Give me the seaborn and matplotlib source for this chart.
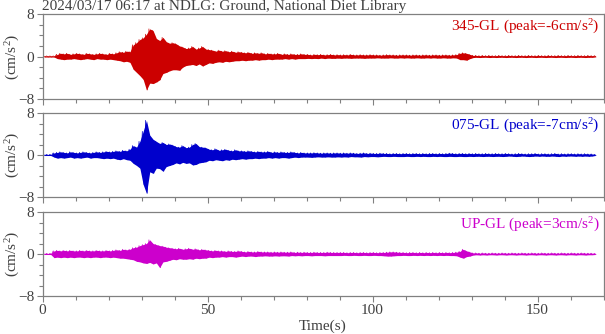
import numpy as np
import pandas as pd
import matplotlib
matplotlib.use("Agg")
import matplotlib.pyplot as plt
from matplotlib.ticker import MultipleLocator, FixedLocator
import seaborn as sns

title = "2024/03/17 06:17 at NDLG: Ground, National Diet Library"
components = ["345-GL", "075-GL", "UP-GL"]
peaks = [-6, -7, 3]
colors = ["#cc0000", "#0000cc", "#cc00cc"]

# Envelope of each record, read per 1-second bin (t = 0 .. 167 s): bin maximum and bin minimum
red_hi = [0.1,0.1,0.1,0.1,0.4,0.6,0.5,0.6,0.4,0.5,
          0.6,0.5,0.4,0.6,0.5,0.4,0.5,0.6,0.5,0.4,
          0.6,0.5,0.7,0.9,0.8,1.0,0.9,2.2,2.6,3.2,
          3.5,4.2,5.2,4.9,3.4,3.0,3.6,2.8,2.5,2.6,
          2.4,2.0,1.8,1.5,1.6,1.9,1.4,1.6,1.9,1.4,
          1.3,1.2,1.0,1.2,1.0,1.1,0.9,1.0,0.8,0.9,
          0.8,0.7,0.8,0.6,0.7,0.6,0.7,0.5,0.6,0.5,
          0.5,0.6,0.4,0.5,0.4,0.5,0.4,0.4,0.5,0.4,
          0.4,0.3,0.4,0.35,0.4,0.3,0.35,0.4,0.3,0.35,
          0.3,0.35,0.3,0.4,0.3,0.3,0.35,0.3,0.3,0.35,
          0.3,0.3,0.25,0.3,0.35,0.3,0.3,0.25,0.3,0.3,
          0.3,0.25,0.3,0.3,0.25,0.3,0.3,0.25,0.3,0.3,
          0.25,0.3,0.3,0.25,0.3,0.35,0.6,0.7,0.6,0.4,
          0.2,0.2,0.15,0.2,0.15,0.2,0.15,0.15,0.2,0.15,
          0.15,0.2,0.15,0.15,0.2,0.15,0.15,0.2,0.15,0.15,
          0.2,0.15,0.15,0.2,0.15,0.15,0.2,0.15,0.15,0.2,
          0.15,0.15,0.2,0.15,0.15,0.2,0.15,0.15]
red_lo = [-0.1,-0.1,-0.1,-0.1,-0.4,-0.5,-0.6,-0.5,-0.5,-0.4,
          -0.5,-0.6,-0.5,-0.4,-0.5,-0.6,-0.4,-0.5,-0.5,-0.6,
          -0.5,-0.6,-0.7,-0.8,-1.0,-0.9,-1.1,-2.4,-3.0,-3.6,
          -4.3,-6.3,-5.0,-5.1,-4.8,-4.4,-3.2,-3.0,-2.7,-2.5,
          -2.5,-2.6,-2.0,-1.7,-1.6,-1.5,-1.7,-1.4,-1.8,-1.5,
          -1.2,-1.3,-1.1,-1.0,-1.1,-0.9,-1.0,-0.9,-0.8,-0.8,
          -0.7,-0.8,-0.7,-0.7,-0.6,-0.7,-0.6,-0.6,-0.5,-0.6,
          -0.5,-0.5,-0.5,-0.4,-0.5,-0.4,-0.5,-0.4,-0.4,-0.4,
          -0.35,-0.4,-0.35,-0.4,-0.3,-0.4,-0.3,-0.35,-0.35,-0.3,
          -0.35,-0.3,-0.3,-0.35,-0.3,-0.3,-0.3,-0.35,-0.3,-0.3,
          -0.3,-0.25,-0.3,-0.3,-0.3,-0.25,-0.3,-0.3,-0.25,-0.3,
          -0.25,-0.3,-0.3,-0.25,-0.3,-0.3,-0.25,-0.3,-0.25,-0.3,
          -0.3,-0.25,-0.3,-0.3,-0.25,-0.3,-0.6,-0.6,-0.7,-0.4,
          -0.2,-0.15,-0.2,-0.15,-0.15,-0.2,-0.15,-0.2,-0.15,-0.15,
          -0.2,-0.15,-0.15,-0.2,-0.15,-0.15,-0.2,-0.15,-0.15,-0.2,
          -0.15,-0.15,-0.2,-0.15,-0.15,-0.2,-0.15,-0.15,-0.2,-0.15,
          -0.15,-0.2,-0.15,-0.15,-0.2,-0.15,-0.15,-0.1]

blue_hi = [0.1,0.1,0.1,0.4,0.5,0.6,0.5,0.4,0.6,0.5,
           0.4,0.5,0.6,0.5,0.4,0.5,0.6,0.5,0.6,0.7,
           0.6,0.7,0.8,0.7,0.9,0.8,1.1,1.8,1.5,2.6,
           4.5,6.6,3.8,3.0,2.6,2.2,2.4,2.0,2.1,1.9,
           1.6,1.5,1.8,1.4,1.5,2.0,2.2,1.6,1.5,1.4,
           1.1,1.0,1.2,0.9,1.0,1.1,0.9,0.8,1.0,0.8,
           0.8,0.7,0.8,0.7,0.6,0.7,0.6,0.6,0.7,0.5,
           0.6,0.5,0.6,0.5,0.5,0.6,0.5,0.4,0.5,0.4,
           0.4,0.4,0.45,0.4,0.35,0.4,0.4,0.35,0.4,0.4,
           0.35,0.4,0.35,0.4,0.35,0.3,0.35,0.4,0.3,0.35,
           0.3,0.3,0.35,0.3,0.3,0.25,0.3,0.3,0.25,0.3,
           0.3,0.25,0.3,0.3,0.25,0.3,0.25,0.3,0.3,0.25,
           0.3,0.25,0.3,0.35,0.3,0.25,0.3,0.3,0.25,0.3,
           0.25,0.3,0.25,0.25,0.3,0.25,0.25,0.3,0.25,0.25,
           0.3,0.25,0.2,0.25,0.3,0.25,0.2,0.25,0.25,0.3,
           0.2,0.25,0.25,0.2,0.25,0.3,0.2,0.25,0.2,0.25,
           0.25,0.2,0.25,0.2,0.25,0.2,0.2,0.1]
blue_lo = [-0.1,-0.1,-0.1,-0.4,-0.6,-0.5,-0.6,-0.5,-0.4,-0.6,
           -0.5,-0.6,-0.5,-0.4,-0.6,-0.5,-0.5,-0.6,-0.7,-0.6,
           -0.7,-0.6,-0.8,-0.9,-0.7,-0.9,-1.0,-1.6,-2.0,-2.5,
           -5.6,-7.3,-3.2,-3.5,-2.5,-2.6,-3.1,-2.2,-2.0,-1.8,
           -1.5,-1.7,-1.4,-1.6,-1.5,-1.9,-1.8,-1.5,-1.4,-1.3,
           -1.0,-1.1,-0.9,-1.0,-1.1,-0.9,-1.0,-0.8,-0.9,-0.8,
           -0.7,-0.8,-0.7,-0.7,-0.6,-0.7,-0.6,-0.6,-0.5,-0.6,
           -0.5,-0.6,-0.5,-0.5,-0.6,-0.5,-0.4,-0.5,-0.4,-0.4,
           -0.4,-0.45,-0.4,-0.35,-0.4,-0.4,-0.35,-0.4,-0.4,-0.35,
           -0.4,-0.35,-0.4,-0.3,-0.35,-0.35,-0.4,-0.3,-0.35,-0.3,
           -0.3,-0.35,-0.3,-0.25,-0.3,-0.3,-0.25,-0.3,-0.3,-0.3,
           -0.25,-0.3,-0.3,-0.25,-0.3,-0.25,-0.3,-0.3,-0.25,-0.3,
           -0.25,-0.3,-0.3,-0.25,-0.3,-0.3,-0.25,-0.3,-0.3,-0.25,
           -0.3,-0.25,-0.25,-0.3,-0.25,-0.25,-0.3,-0.25,-0.25,-0.3,
           -0.25,-0.2,-0.25,-0.3,-0.25,-0.2,-0.25,-0.3,-0.25,-0.2,
           -0.25,-0.2,-0.25,-0.25,-0.2,-0.25,-0.3,-0.2,-0.25,-0.2,
           -0.2,-0.25,-0.2,-0.25,-0.2,-0.25,-0.2,-0.1]

mag_hi = [0.1,0.1,0.1,0.6,0.7,0.6,0.7,0.6,0.7,0.6,
          0.6,0.7,0.6,0.7,0.6,0.6,0.7,0.6,0.6,0.7,
          0.6,0.7,0.8,0.7,0.9,0.8,0.9,1.2,1.3,1.6,
          1.8,2.0,2.7,2.0,1.8,1.6,1.5,1.3,1.2,1.1,
          1.0,1.1,0.9,1.0,1.1,0.9,1.0,0.8,0.9,0.8,
          0.7,0.6,0.7,0.6,0.6,0.5,0.6,0.5,0.5,0.6,
          0.5,0.4,0.5,0.4,0.4,0.5,0.4,0.4,0.4,0.35,
          0.4,0.35,0.4,0.35,0.35,0.4,0.3,0.35,0.3,0.35,
          0.3,0.3,0.35,0.3,0.3,0.3,0.35,0.3,0.3,0.3,
          0.3,0.3,0.25,0.3,0.3,0.25,0.3,0.3,0.25,0.3,
          0.3,0.25,0.3,0.3,0.35,0.4,0.4,0.35,0.3,0.3,
          0.25,0.3,0.3,0.25,0.3,0.25,0.3,0.25,0.3,0.25,
          0.3,0.25,0.3,0.25,0.3,0.35,0.5,0.9,0.6,0.4,
          0.2,0.2,0.15,0.2,0.15,0.15,0.2,0.15,0.15,0.2,
          0.15,0.15,0.2,0.15,0.15,0.2,0.15,0.15,0.2,0.15,
          0.15,0.2,0.15,0.15,0.2,0.15,0.15,0.2,0.15,0.15,
          0.2,0.15,0.15,0.2,0.15,0.15,0.15,0.1]
mag_lo = [-0.1,-0.1,-0.1,-0.7,-0.6,-0.7,-0.6,-0.7,-0.6,-0.7,
          -0.6,-0.6,-0.7,-0.6,-0.7,-0.6,-0.6,-0.7,-0.6,-0.6,
          -0.7,-0.6,-0.7,-0.8,-0.8,-0.9,-1.0,-1.1,-1.4,-1.5,
          -1.7,-1.8,-1.6,-1.9,-1.7,-2.6,-1.5,-1.4,-1.2,-1.0,
          -1.1,-0.9,-1.0,-1.0,-0.9,-1.0,-0.8,-0.9,-0.8,-0.8,
          -0.6,-0.7,-0.6,-0.6,-0.5,-0.6,-0.5,-0.5,-0.6,-0.5,
          -0.4,-0.5,-0.4,-0.4,-0.5,-0.4,-0.4,-0.35,-0.4,-0.4,
          -0.35,-0.4,-0.35,-0.35,-0.4,-0.3,-0.35,-0.3,-0.35,-0.3,
          -0.3,-0.35,-0.3,-0.3,-0.3,-0.35,-0.3,-0.3,-0.3,-0.3,
          -0.3,-0.25,-0.3,-0.3,-0.25,-0.3,-0.3,-0.25,-0.3,-0.3,
          -0.25,-0.3,-0.3,-0.35,-0.4,-0.4,-0.35,-0.3,-0.3,-0.25,
          -0.3,-0.3,-0.25,-0.3,-0.25,-0.3,-0.25,-0.3,-0.25,-0.3,
          -0.25,-0.3,-0.25,-0.3,-0.3,-0.35,-0.6,-0.8,-0.5,-0.4,
          -0.2,-0.15,-0.2,-0.15,-0.2,-0.15,-0.15,-0.2,-0.15,-0.15,
          -0.2,-0.15,-0.15,-0.2,-0.15,-0.15,-0.2,-0.15,-0.15,-0.2,
          -0.15,-0.15,-0.2,-0.15,-0.15,-0.2,-0.15,-0.15,-0.2,-0.15,
          -0.15,-0.2,-0.15,-0.15,-0.2,-0.15,-0.15,-0.1]

his = [red_hi, blue_hi, mag_hi]
los = [red_lo, blue_lo, mag_lo]

sns.set_theme(style="white")
plt.rcParams["font.family"] = ["Liberation Serif", "DejaVu Serif"]
plt.rcParams["mathtext.fontset"] = "custom"
plt.rcParams["mathtext.rm"] = "Liberation Serif"
plt.rcParams["mathtext.it"] = "Liberation Serif"

GRAY = "#808080"
TXT = "#404040"
FS = 11

fig = plt.figure(figsize=(6.05, 3.34), dpi=100)
left = 42.5 / 605
width = (603.5 - 42.5) / 605
panels = [(14, 99), (113, 197), (212, 296)]

for k, (top, bot) in enumerate(panels):
    ax = fig.add_axes([left, 1 - bot / 334, width, (bot - top) / 334])
    hi, lo = his[k], los[k]
    t, a = [], []
    for i in range(len(hi)):
        t += [i + 0.25, i + 0.75]
        a += [hi[i], lo[i]]
    df = pd.DataFrame({"time": t, "acc": a})
    tc = [i + 0.5 for i in range(len(hi))]
    ax.fill_between(tc, lo, hi, color=colors[k], lw=0)
    sns.lineplot(data=df, x="time", y="acc", ax=ax, color=colors[k], lw=0.5,
                 estimator=None, sort=False)
    ax.set_xlim(0, 170)
    ax.set_ylim(-8, 8)
    ax.yaxis.set_major_locator(FixedLocator([-8, 0, 8]))
    ax.yaxis.set_minor_locator(FixedLocator([-6, -4, -2, 2, 4, 6]))
    ax.xaxis.set_major_locator(MultipleLocator(50))
    ax.xaxis.set_minor_locator(MultipleLocator(10))
    ax.tick_params(axis="both", which="major", direction="out", length=4, width=0.8,
                   color=GRAY, labelcolor=TXT, labelsize=FS, pad=2,
                   left=True, bottom=True)
    ax.tick_params(axis="both", which="minor", direction="out", length=3, width=0.8,
                   color=GRAY, left=True, bottom=True)
    for sp in ax.spines.values():
        sp.set_color(GRAY)
        sp.set_linewidth(0.9)
    ax.set_ylabel("(cm/s$^2$)", color=TXT, fontsize=FS)
    ax.yaxis.set_label_coords(-0.037, 0.5)
    if k < 2:
        ax.set_xlabel("")
        ax.set_xticklabels([])
    else:
        ax.set_xlabel("Time(s)", color=TXT, fontsize=FS, labelpad=1.5)
    ax.text(0.993, 0.95, f"{components[k]} (peak={peaks[k]}cm/s$^2$)",
            transform=ax.transAxes, ha="right", va="top", color=colors[k], fontsize=FS)
    if k == 0:
        ax.text(0.0, 1.01, title, transform=ax.transAxes, ha="left", va="bottom",
                color=TXT, fontsize=FS)

fig.savefig("out.png", dpi=100)
